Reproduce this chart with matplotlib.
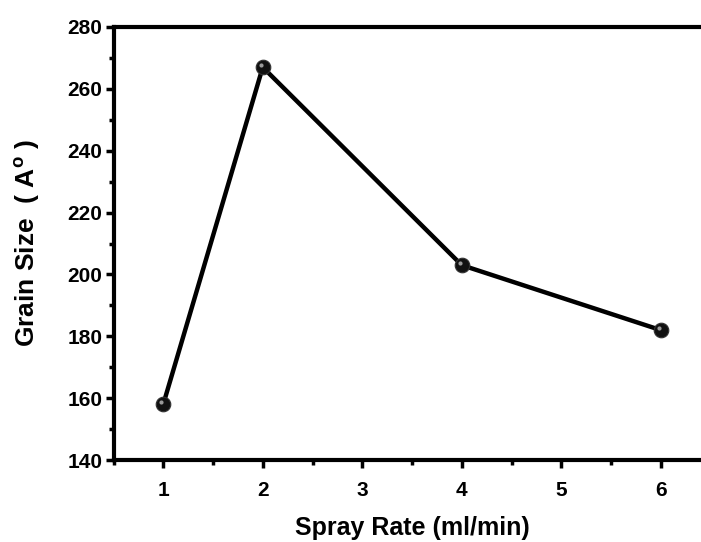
import matplotlib
matplotlib.use("Agg")
import matplotlib.pyplot as plt
import matplotlib.transforms as mtransforms

spray_rate = [1, 2, 4, 6]
grain_size = [158, 267, 203, 182]

plt.rcParams['font.family'] = ['Liberation Sans', 'DejaVu Sans']
plt.rcParams['font.weight'] = 'bold'
plt.rcParams['mathtext.fontset'] = 'custom'
plt.rcParams['mathtext.rm'] = 'Liberation Sans:bold'
plt.rcParams['mathtext.bf'] = 'Liberation Sans:bold'

fig = plt.figure(figsize=(7.01, 5.42), dpi=100)
# the right side of the frame runs past the picture edge, as in the original
ax = fig.add_axes([113.5/701, 82/542, 597/701, 433/542])

ax.plot(spray_rate, grain_size, color='black', linewidth=3.2, zorder=2)
ax.plot(spray_rate, grain_size, linestyle='none', marker='o', markersize=10.5,
        markerfacecolor='#111111', markeredgecolor='#333333', markeredgewidth=0.8, zorder=3)
# small highlight on each sphere
hl = mtransforms.offset_copy(ax.transData, fig=fig, x=-1.5, y=1.5, units='points')
ax.plot(spray_rate, grain_size, linestyle='none', marker='o', markersize=3,
        markerfacecolor='#9a9a9a', markeredgecolor='none', transform=hl, zorder=4)

ax.set_xlim(0.5, 6.5)
ax.set_ylim(140, 280)
ax.set_xticks([1, 2, 3, 4, 5, 6])
ax.set_xticks([0.5, 1.5, 2.5, 3.5, 4.5, 5.5], minor=True)
ax.set_yticks(range(140, 281, 20))
ax.set_yticks(range(150, 280, 20), minor=True)

for s in ['left', 'bottom', 'top']:
    ax.spines[s].set_linewidth(3)
ax.spines['right'].set_visible(False)

ax.tick_params(which='major', direction='out', length=6, width=2.5)
ax.tick_params(which='minor', direction='out', length=3.5, width=2.5)
ax.tick_params(axis='x', which='major', labelsize=15, pad=9)
ax.tick_params(axis='y', which='major', labelsize=15, pad=2)

ax.set_xlabel('Spray Rate (ml/min)', fontsize=18, fontweight='bold', labelpad=12)
ax.set_ylabel(r'Grain Size  ( A$^{\mathrm{o}}$ )', fontsize=19, fontweight='bold', labelpad=18)

fig.savefig('out.png', dpi=100)
